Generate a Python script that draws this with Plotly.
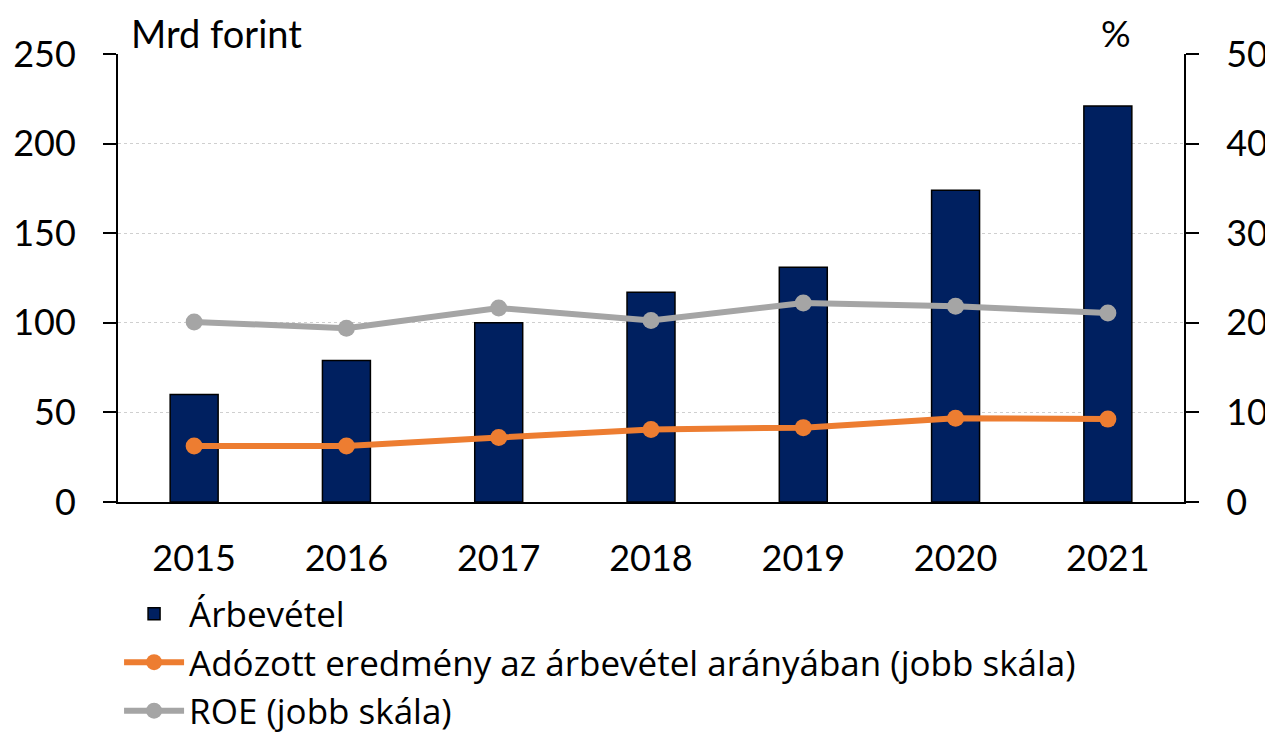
import plotly.graph_objects as go

years = ["2015", "2016", "2017", "2018", "2019", "2020", "2021"]
arbevetel = [60, 79, 100, 117, 131, 174, 221]
adozott_arany = [6.25, 6.25, 7.2, 8.1, 8.3, 9.35, 9.25]
roe = [20.1, 19.4, 21.65, 20.25, 22.2, 21.85, 21.1]

left_ticks = [0, 50, 100, 150, 200, 250]
right_ticks = [0, 10, 20, 30, 40, 50]

FONT = "Lato"
FS = 36

fig = go.Figure()
fig.add_trace(go.Bar(
    x=years, y=arbevetel, name="Árbevétel",
    marker=dict(color="#002060", line=dict(color="black", width=1.5)),
    yaxis="y",
))
fig.add_trace(go.Scatter(
    x=years, y=adozott_arany, name="Adózott eredmény az árbevétel arányában (jobb skála)",
    mode="lines+markers", line=dict(color="#ED7D31", width=6),
    marker=dict(size=17, color="#ED7D31"), yaxis="y2",
))
fig.add_trace(go.Scatter(
    x=years, y=roe, name="ROE (jobb skála)",
    mode="lines+markers", line=dict(color="#A5A5A5", width=6),
    marker=dict(size=17, color="#A5A5A5"), yaxis="y2",
))

fig.update_layout(
    width=1265, height=726,
    margin=dict(l=110, r=89, t=46, b=232, autoexpand=False),
    paper_bgcolor="white", plot_bgcolor="white",
    font=dict(family=FONT, size=FS, color="black"),
    bargap=0.685,
    showlegend=True,
    legend=dict(
        orientation="v", x=0.001, xanchor="left", y=-0.184, yanchor="top",
        font=dict(family="Open Sans", size=35, color="black"),
        itemwidth=60, tracegroupgap=0, bgcolor="rgba(0,0,0,0)",
    ),
    xaxis=dict(
        type="category", showline=True, linecolor="black", linewidth=2,
        ticks="", showgrid=False, tickfont=dict(size=FS),
        ticklabelstandoff=24,
    ),
    yaxis=dict(
        range=[0, 250], tickvals=left_ticks, showline=True, linecolor="black", linewidth=2,
        ticks="outside", ticklen=13, tickwidth=2, tickcolor="black",
        showgrid=True, gridcolor="#CFCFCF", griddash="dot", gridwidth=1,
        zeroline=False, tickfont=dict(size=FS), ticklabelstandoff=20,
    ),
    yaxis2=dict(
        range=[0, 50], tickvals=right_ticks, overlaying="y", side="right",
        showline=True, linecolor="black", linewidth=2,
        ticks="outside", ticklen=13, tickwidth=2, tickcolor="black",
        showgrid=False, zeroline=False, tickfont=dict(size=FS), ticklabelstandoff=20,
    ),
    annotations=[
        dict(text="Mrd forint", xref="paper", yref="paper", x=0.010, y=1.0, yshift=46,
             xanchor="left", yanchor="top", showarrow=False, font=dict(size=38)),
        dict(text="%", xref="paper", yref="paper", x=0.936, y=1.0, yshift=46,
             xanchor="center", yanchor="top", showarrow=False, font=dict(size=37)),
    ],
)

fig.write_html("out.html")
